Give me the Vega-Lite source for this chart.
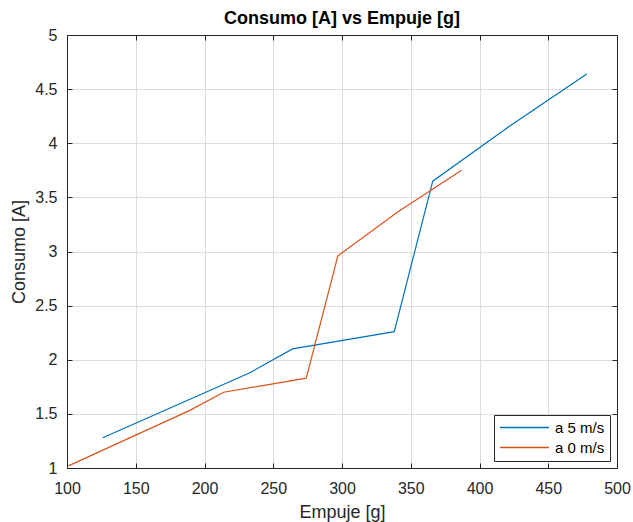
{
  "$schema": "https://vega.github.io/schema/vega-lite/v6.json",
  "width": 550,
  "height": 433,
  "autosize": {"type": "none"},
  "padding": {"left": 67, "top": 35, "right": 16, "bottom": 54},
  "background": "white",
  "title": {"text": "Consumo [A] vs Empuje [g]", "fontSize": 18, "font": "Liberation Sans", "fontWeight": "bold", "color": "#000000", "offset": 2, "dy": 3, "anchor": "middle"},
  "config": {
    "view": {"stroke": "#262626", "strokeWidth": 1},
    "axis": {"labelFont": "Liberation Sans", "titleFont": "Liberation Sans", "labelFontSize": 16, "titleFontSize": 18, "labelColor": "#262626", "titleColor": "#262626", "titleFontWeight": "normal", "gridColor": "#dcdcdc", "gridWidth": 1, "domainColor": "#262626", "tickColor": "#262626", "tickSize": -5, "labelFlush": false}
  },
  "resolve": {"axis": {"x": "independent", "y": "independent"}},
  "data": {"values": [
    {"s": "a 5 m/s", "o": 1, "x": 126, "y": 1.28},
    {"s": "a 5 m/s", "o": 2, "x": 233, "y": 1.88},
    {"s": "a 5 m/s", "o": 3, "x": 264, "y": 2.10},
    {"s": "a 5 m/s", "o": 4, "x": 338, "y": 2.26},
    {"s": "a 5 m/s", "o": 5, "x": 366, "y": 3.65},
    {"s": "a 5 m/s", "o": 6, "x": 421, "y": 4.15},
    {"s": "a 5 m/s", "o": 7, "x": 478, "y": 4.64},
    {"s": "a 0 m/s", "o": 1, "x": 101, "y": 1.02},
    {"s": "a 0 m/s", "o": 2, "x": 189, "y": 1.53},
    {"s": "a 0 m/s", "o": 3, "x": 214, "y": 1.70},
    {"s": "a 0 m/s", "o": 4, "x": 274, "y": 1.83},
    {"s": "a 0 m/s", "o": 5, "x": 297, "y": 2.96},
    {"s": "a 0 m/s", "o": 6, "x": 341, "y": 3.37},
    {"s": "a 0 m/s", "o": 7, "x": 387, "y": 3.75}
  ]},
  "layer": [
    {
      "mark": {"type": "line", "strokeWidth": 1.2, "clip": true},
      "encoding": {
        "x": {"field": "x", "type": "quantitative", "scale": {"domain": [100, 500], "nice": false, "zero": false}, "axis": {"title": "Empuje [g]", "values": [100,150,200,250,300,350,400,450,500], "labelPadding": 17, "titleY": 49, "titleBaseline": "alphabetic"}},
        "y": {"field": "y", "type": "quantitative", "scale": {"domain": [1, 5], "nice": false, "zero": false}, "axis": {"title": "Consumo [A]", "values": [1,1.5,2,2.5,3,3.5,4,4.5,5], "labelExpr": "datum.value", "labelPadding": 15, "titleX": -48, "titleBaseline": "middle"}},
        "order": {"field": "o"},
        "color": {"field": "s", "type": "nominal", "scale": {"domain": ["a 5 m/s", "a 0 m/s"], "range": ["#0072BD", "#D95319"]},
          "legend": {"title": null, "orient": "bottom-right", "offset": 7, "symbolType": "M-2.6,0H17", "symbolSize": 25, "symbolStrokeWidth": 1.5, "labelFont": "Liberation Sans", "labelFontSize": 15, "labelColor": "#000000", "strokeColor": "#262626", "padding": 5, "rowPadding": 4, "fillColor": "white", "labelOffset": 41}}
      }
    },
    {
      "mark": {"type": "line", "opacity": 0},
      "encoding": {
        "x": {"field": "x", "type": "quantitative", "axis": {"orient": "top", "labels": false, "grid": false, "title": null, "values": [100,150,200,250,300,350,400,450,500]}},
        "y": {"field": "y", "type": "quantitative", "axis": {"orient": "right", "labels": false, "grid": false, "title": null, "values": [1,1.5,2,2.5,3,3.5,4,4.5,5]}},
        "order": {"field": "o"},
        "detail": {"field": "s"}
      }
    }
  ]
}
